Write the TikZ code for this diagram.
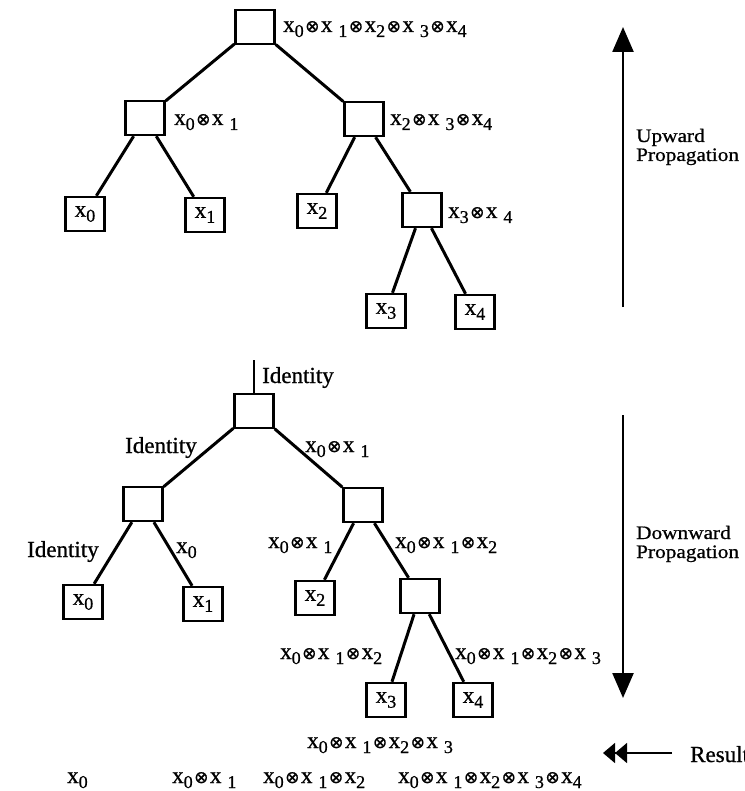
\documentclass[tikz,border=0pt]{standalone}
\usepackage{fontspec}
\setmainfont{Liberation Serif}[FakeBold=0.8]
\newfontfamily\symf{DejaVu Sans}[FakeBold=0.8]
\newfontfamily\widef{Liberation Serif}[FakeStretch=1.12,FakeBold=0.8]
\usetikzlibrary{arrows.meta}
\newcommand\sx[1]{\raisebox{-5pt}{\fontsize{18}{18}\selectfont #1}}
\newcommand\xx[1]{x\sx{#1}}
\newcommand\xg[1]{x\hspace{6pt}\sx{#1}}
\newcommand\op{\hspace{1.5pt}{\symf\fontsize{17}{17}\selectfont ⊗}\hspace{1.5pt}}
\tikzset{
  every node/.style={font=\fontsize{23}{25}\selectfont},
  box/.style={draw, line width=2.4pt, minimum width=39pt, minimum height=34pt, inner sep=0pt},
  edge/.style={line width=3pt},
  lab/.style={anchor=base west, inner sep=0pt},
  side/.style={font=\widef\fontsize{19}{19}\selectfont, anchor=base west, inner sep=0pt},
  bigarrow/.style={line width=2.4pt, -{Triangle[length=25pt,width=21pt]}},
}
\begin{document}
\begin{tikzpicture}[x=1pt,y=-1pt]
\useasboundingbox (0,0) rectangle (744,791);
% ---------- upward tree ----------
\node[box] (r) at (255,27) {};
\node[box] (a) at (145,118) {};
\node[box] (b) at (364,119) {};
\node[box] (l0) at (85,214) {\xx0};
\node[box] (l1) at (205,215) {\xx1};
\node[box] (l2) at (317,211) {\xx2};
\node[box] (c) at (422,210) {};
\node[box] (l3) at (386,311) {\xx3};
\node[box] (l4) at (475,312) {\xx4};
\draw[edge] (r)--(a);
\draw[edge] (r)--(b);
\draw[edge] (a)--(l0);
\draw[edge] (a)--(l1);
\draw[edge] (b)--(l2);
\draw[edge] (b)--(c);
\draw[edge] (c)--(l3);
\draw[edge] (c)--(l4);
\node[lab] (tr) at (283,32) {\xx0\op\xg1\op\xx2\op\xg3\op\xx4};
\node[lab] (ta) at (174,125) {\xx0\op\xg1};
\node[lab] (tb) at (390,125) {\xx2\op\xg3\op\xx4};
\node[lab] (tc) at (448,218) {\xx3\op\xg4};
% upward arrow
\coordinate (u0) at (623,307);
\coordinate (u1) at (623,27);
\draw[bigarrow] (u0)--(u1);
\node[side] (up1) at (636,142) {Upward};
\node[side] (up2) at (636,161) {Propagation};
% ---------- downward tree ----------
\coordinate (Rtop) at (254,360);
\node[box] (R) at (254,411) {};
\node[box] (A) at (143,504) {};
\node[box] (B) at (363,505) {};
\node[box] (L0) at (83,602) {\xx0};
\node[box] (L1) at (203,604) {\xx1};
\node[box] (L2) at (315,598) {\xx2};
\node[box] (C) at (420,596) {};
\node[box] (L3) at (386,700) {\xx3};
\node[box] (L4) at (473,700) {\xx4};
\draw[line width=1.6pt] (Rtop)--(R);
\draw[edge] (R)--(A);
\draw[edge] (R)--(B);
\draw[edge] (A)--(L0);
\draw[edge] (A)--(L1);
\draw[edge] (B)--(L2);
\draw[edge] (B)--(C);
\draw[edge] (C)--(L3);
\draw[edge] (C)--(L4);
\node[lab] (i0) at (262,383) {Identity};
\node[lab] (i1) at (125,453) {Identity};
\node[lab] (d1) at (305,452) {\xx0\op\xg1};
\node[lab] (i2) at (27,557) {Identity};
\node[lab] (d2) at (176,553) {\xx0};
\node[lab] (d3) at (268,548) {\xx0\op\xg1};
\node[lab] (d4) at (395,548) {\xx0\op\xg1\op\xx2};
\node[lab] (d5) at (280,659) {\xx0\op\xg1\op\xx2};
\node[lab] (d6) at (455,659) {\xx0\op\xg1\op\xx2\op\xg3};
% downward arrow
\coordinate (w0) at (623,415);
\coordinate (w1) at (623,698);
\draw[bigarrow] (w0)--(w1);
\node[side] (dn1) at (636,539) {Downward};
\node[side] (dn2) at (636,558) {Propagation};
% ---------- results ----------
\node[lab] (s4) at (307,748) {\xx0\op\xg1\op\xx2\op\xg3};
\node[lab] (s0) at (67,783) {\xx0};
\node[lab] (s1) at (172,783) {\xx0\op\xg1};
\node[lab] (s2) at (263,783) {\xx0\op\xg1\op\xx2};
\node[lab] (s3) at (398,783) {\xx0\op\xg1\op\xx2\op\xg3\op\xx4};
\coordinate (res0) at (672,753);
\coordinate (res1) at (603,753);
\draw[line width=1.4pt, -{Triangle[length=12pt,width=20pt]Triangle[length=12pt,width=20pt]}] (res0)--(res1);
\node[lab] (res) at (690,762) {Result};
\end{tikzpicture}
\end{document}
